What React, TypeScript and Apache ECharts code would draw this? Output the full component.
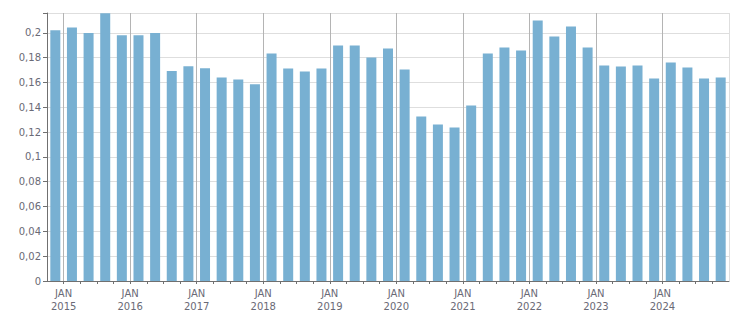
import React, { useEffect, useRef } from "react";
import * as echarts from "echarts";

// Quarterly values, Q4 2014 .. Q4 2024
const quarters: string[] = [
  "2014 Q4",
  "2015 Q1", "2015 Q2", "2015 Q3", "2015 Q4",
  "2016 Q1", "2016 Q2", "2016 Q3", "2016 Q4",
  "2017 Q1", "2017 Q2", "2017 Q3", "2017 Q4",
  "2018 Q1", "2018 Q2", "2018 Q3", "2018 Q4",
  "2019 Q1", "2019 Q2", "2019 Q3", "2019 Q4",
  "2020 Q1", "2020 Q2", "2020 Q3", "2020 Q4",
  "2021 Q1", "2021 Q2", "2021 Q3", "2021 Q4",
  "2022 Q1", "2022 Q2", "2022 Q3", "2022 Q4",
  "2023 Q1", "2023 Q2", "2023 Q3", "2023 Q4",
  "2024 Q1", "2024 Q2", "2024 Q3", "2024 Q4",
];

const values: number[] = [
  0.202,
  0.2044, 0.1998, 0.2157, 0.198,
  0.198, 0.1998, 0.1692, 0.173,
  0.1714, 0.1641, 0.1625, 0.1585,
  0.1833, 0.1712, 0.1688, 0.1712,
  0.1898, 0.1898, 0.1801, 0.1873,
  0.1705, 0.1326, 0.1261, 0.1237,
  0.1414, 0.1833, 0.1882, 0.1857,
  0.2099, 0.197, 0.2051, 0.1882,
  0.1737, 0.1729, 0.1737, 0.1632,
  0.1761, 0.172, 0.1632, 0.164,
];

const firstYear = 2015;
const yearLabels: string[] = ["2015", "2016", "2017", "2018", "2019", "2020", "2021", "2022", "2023", "2024"];

const FONT = "DejaVu Sans";
const TEXT = "#6a6a76";
const AXIS = "#707070";

export default function App() {
  const ref = useRef<HTMLDivElement>(null);
  useEffect(() => {
    if (!ref.current) return;
    const chart = echarts.init(ref.current, undefined, { renderer: "svg" });
    // x positions: quarter index, 0 = start of Q4 2014; bar centered in its quarter
    const barData = values.map((v, i) => [i + 0.5, v]);
    const janLines = yearLabels.map((y) => ({
      xAxis: 1 + (parseInt(y, 10) - firstYear) * 4,
    }));
    chart.setOption({
      animation: false,
      grid: { left: 47, right: 22, top: 13, bottom: 32, containLabel: false },
      xAxis: {
        type: "value",
        min: 0,
        max: quarters.length,
        interval: 1,
        axisLine: { show: true, lineStyle: { color: AXIS, width: 1 } },
        axisTick: { show: true, length: 3, lineStyle: { color: AXIS } },
        splitLine: { show: false },
        axisLabel: {
          showMaxLabel: false,
          showMinLabel: false,
          margin: 6,
          color: TEXT,
          fontFamily: FONT,
          fontSize: 10,
          lineHeight: 12.7,
          formatter: (v: number) => {
            const idx = Math.round(v);
            if ((idx - 1) % 4 !== 0 || idx >= quarters.length) return "";
            const y = yearLabels[(idx - 1) / 4];
            return y ? `JAN\n${y}` : "";
          },
        },
      },
      yAxis: {
        type: "value",
        min: 0,
        max: 0.216,
        interval: 0.02,
        axisLine: { show: true, lineStyle: { color: AXIS, width: 1 } },
        axisTick: { show: true, length: 4, lineStyle: { color: AXIS } },
        splitLine: { show: true, lineStyle: { color: "#dedede", width: 1 } },
        axisLabel: {
          margin: 6,
          color: TEXT,
          fontFamily: FONT,
          fontSize: 10,
          formatter: (v: number) => {
            const k = v / 0.02;
            if (Math.abs(k - Math.round(k)) > 1e-6) return "";
            if (v === 0) return "0";
            return String(parseFloat(v.toFixed(2))).replace(".", ",");
          },
        },
      },
      series: [
        {
          type: "bar",
          data: barData,
          barWidth: 10,
          itemStyle: { color: "#78b0d2" },
          markLine: {
            silent: true,
            symbol: ["none", "none"],
            label: { show: false },
            lineStyle: { color: "#b4b4b4", width: 1, type: "solid" },
            data: [
              ...janLines,
              { xAxis: quarters.length, lineStyle: { color: "#dedede", width: 1, type: "solid" } },
            ],
          },
        },
      ],
    });
    return () => chart.dispose();
  }, []);
  return (
    <div
      ref={ref}
      style={{ position: "fixed", left: 0, top: 0, width: 751, height: 313, background: "#fff" }}
    />
  );
}
